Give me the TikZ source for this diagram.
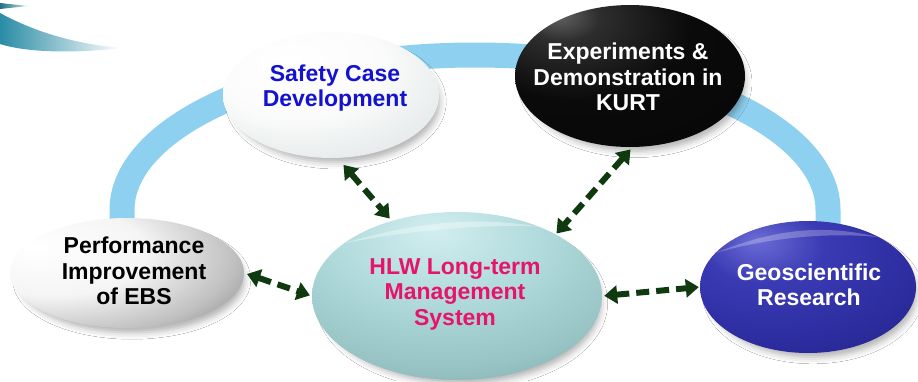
\documentclass[tikz,border=0pt]{standalone}
\usepackage{fontspec}
\setmainfont{Liberation Sans}
\usetikzlibrary{shapes.geometric,arrows.meta,shadows.blur}

% palette
\definecolor{arrowgreen}{HTML}{0F3A10}
\definecolor{ringblue}{HTML}{8ED0F0}
\definecolor{swooshteal}{HTML}{2A8CA6}
\definecolor{safetext}{HTML}{1212D0}
\definecolor{hlwtext}{HTML}{E6146A}
\definecolor{hlwA}{HTML}{D2EEEF}
\definecolor{hlwB}{HTML}{B0DADC}
\definecolor{hlwC}{HTML}{98C4C6}
\definecolor{hlwD}{HTML}{76A2A4}
\definecolor{hlwE}{HTML}{568284}
\definecolor{safeB}{HTML}{E6EBEB}
\definecolor{safeC}{HTML}{BCC8C9}
\definecolor{safeD}{HTML}{8E9EA0}
\definecolor{geoA}{HTML}{6C6CD6}
\definecolor{geoB}{HTML}{3A3AB4}
\definecolor{geoC}{HTML}{2C2C9E}
\definecolor{geoD}{HTML}{1E1E7E}
\definecolor{geoE}{HTML}{121258}

% glossy fills for the bubbles (off-centre radial shadings)
\pgfdeclareradialshading{safeshade}{\pgfpoint{-10bp}{14bp}}{%
  color(0bp)=(white); color(20bp)=(white!97!gray); color(36bp)=(safeB);
  color(50bp)=(safeC); color(64bp)=(safeD); color(100bp)=(safeD)}
\pgfdeclareradialshading{perfshade}{\pgfpoint{-20bp}{12bp}}{%
  color(0bp)=(white); color(20bp)=(white!96!black); color(36bp)=(white!75!black);
  color(50bp)=(black!55); color(64bp)=(black!78); color(100bp)=(black!78)}
\pgfdeclareradialshading{hlwshade}{\pgfpoint{-4bp}{20bp}}{%
  color(0bp)=(hlwA); color(18bp)=(hlwB); color(34bp)=(hlwC);
  color(50bp)=(hlwD); color(68bp)=(hlwE); color(100bp)=(hlwE)}
\pgfdeclareradialshading{kurtshade}{\pgfpoint{-16bp}{22bp}}{%
  color(0bp)=(black!60); color(8bp)=(black!82); color(25bp)=(black!96); color(100bp)=(black)}
\pgfdeclareradialshading{geoshade}{\pgfpoint{-12bp}{18bp}}{%
  color(0bp)=(geoA); color(14bp)=(geoB); color(34bp)=(geoC);
  color(52bp)=(geoD); color(68bp)=(geoE); color(100bp)=(geoE)}

\begin{document}
\begin{tikzpicture}[x=1pt,y=-1pt,
  bub/.style={ellipse, inner sep=0pt, shade,
    blur shadow={shadow xshift=5pt,shadow yshift=-7pt,shadow scale=0.96,
      shadow blur radius=7pt,shadow opacity=32}},
  gloss/.style={white, opacity=0.35},
  lbl/.style={font=\bfseries\fontsize{23}{25.5}\selectfont, align=center, inner sep=0pt},
  link/.style={draw=arrowgreen, line width=6pt, dash pattern=on 13pt off 7pt,
    {Triangle[length=13pt,width=18pt]}-{Triangle[length=13pt,width=18pt]}}
]
\useasboundingbox (0,0) rectangle (918,381);
\fill[white] (0,0) rectangle (918,381);

% corner swoosh
\shade[left color=swooshteal!80!black, right color=swooshteal!25] (0,3) -- (28,6) -- (0,9) -- cycle;
\shade[left color=swooshteal, right color=white]
  (0,13) .. controls (35,32) and (75,44) .. (122,48) .. controls (70,54) and (25,52) .. (0,44) -- cycle;

% ring joining the outer bubbles
\draw[ringblue, line width=25pt] (122,240) -- (122,210)
  arc[start angle=180, end angle=0, x radius=353pt, y radius=155pt] -- (828,240);

% bubbles
\node[bub, shading=safeshade, minimum width=216pt, minimum height=126pt] (safe) at (331,95) {};
\node[bub, shading=kurtshade, minimum width=230pt, minimum height=142pt] (kurt) at (630,76) {};
\node[bub, shading=perfshade, minimum width=234pt, minimum height=110pt] (perf) at (127,273) {};
\node[bub, shading=geoshade, minimum width=216pt, minimum height=132pt] (geo) at (808,287) {};
\node[bub, shading=hlwshade, minimum width=290pt, minimum height=168pt] (hlw) at (457,296) {};

% soft highlights on the upper rims
\fill[gloss] (hlw.155) .. controls ([yshift=-14pt]hlw.120) and ([yshift=-10pt]hlw.70) .. (hlw.40)
  .. controls ([yshift=-4pt]hlw.75) and ([yshift=-6pt]hlw.115) .. (hlw.155) -- cycle;
\fill[gloss, opacity=0.25] (geo.160) .. controls ([yshift=-12pt]geo.120) and ([yshift=-10pt]geo.70) .. (geo.35)
  .. controls ([yshift=-3pt]geo.75) and ([yshift=-4pt]geo.115) .. (geo.160) -- cycle;

% labels
\node[lbl, text=safetext] (safe-t) at (335,88) {Safety Case\\Development};
\node[lbl, text=white] (kurt-t) at (628,77) {Experiments \&\\Demonstration in\\KURT};
\node[lbl, text=black] (perf-t) at (134,271) {Performance\\Improvement\\of EBS};
\node[lbl, text=white] (geo-t) at (809,285) {Geoscientific\\Research};
\node[lbl, text=hlwtext] (hlw-t) at (455,294) {HLW Long-term\\Management\\System};

% two-way links to the central bubble
\draw[link, shorten <=3pt, shorten >=2pt] (perf.east) -- (hlw.west);
\draw[link, shorten <=9pt, shorten >=3pt] (safe.-84) -- (hlw.131);
\draw[link, shorten <=3pt, shorten >=1pt] (kurt.-88) -- (hlw.32);
\draw[link, shorten <=2pt, shorten >=1pt] (hlw.east) -- (geo.west);
\end{tikzpicture}
\end{document}
